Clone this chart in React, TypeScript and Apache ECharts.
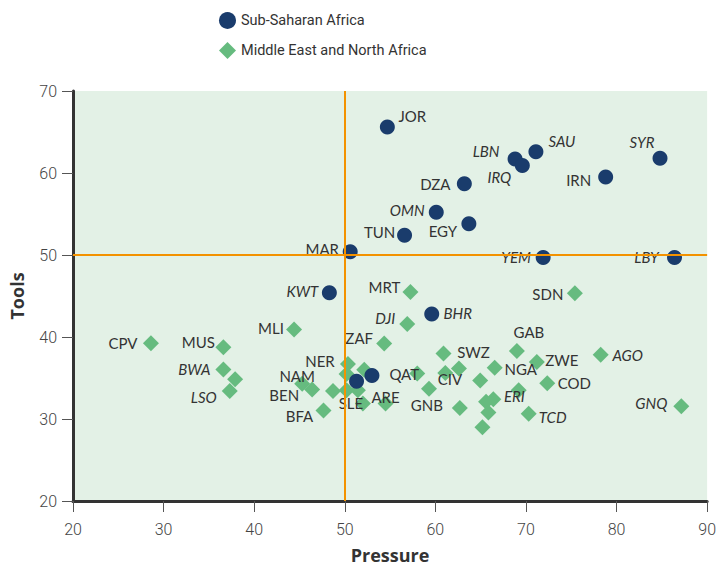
import React, { useEffect, useRef } from 'react';
import * as echarts from 'echarts';

// Sub-Saharan Africa (legend) – dark blue circles
const blueNames = ['JOR', 'LBN', 'IRQ', 'SAU', 'SYR', 'IRN', 'DZA', 'OMN', 'EGY', 'TUN', 'MAR', 'YEM', 'LBY', 'KWT', 'BHR', '', ''];
const blueX = [54.7, 68.8, 69.6, 71.1, 84.8, 78.8, 63.2, 60.1, 63.7, 56.6, 50.6, 71.9, 86.4, 48.3, 59.6, 51.3, 53.0];
const blueY = [65.6, 61.7, 60.9, 62.6, 61.8, 59.5, 58.7, 55.2, 53.8, 52.4, 50.4, 49.7, 49.7, 45.4, 42.8, 34.6, 35.3];

// Middle East and North Africa (legend) – green diamonds
const greenNames = ['MRT', 'SDN', 'DJI', 'MLI', 'CPV', 'MUS', 'ZAF', 'GAB', 'SWZ', 'AGO', 'ZWE', 'NGA', 'COD', 'BWA', '', 'LSO', 'NER', '', '', 'BEN', 'NAM', '', '', 'SLE', 'BFA', '', 'ARE', 'QAT', '', 'CIV', '', 'GNB', '', '', 'ERI', '', '', '', 'TCD', 'GNQ'];
const greenX = [57.25, 75.4, 56.9, 44.4, 28.6, 36.6, 54.35, 69.0, 60.9, 78.25, 71.2, 66.55, 72.35, 36.6, 37.9, 37.3, 50.35, 52.15, 50.2, 45.3, 46.4, 48.7, 50.2, 51.45, 47.65, 52.0, 54.5, 58.0, 59.3, 62.6, 61.1, 62.7, 64.95, 65.6, 66.4, 65.85, 65.2, 69.2, 70.3, 87.15];
const greenY = [45.5, 45.35, 41.6, 40.9, 39.25, 38.75, 39.2, 38.3, 38.0, 37.85, 36.95, 36.25, 34.35, 36.05, 34.85, 33.4, 36.7, 36.0, 35.5, 34.3, 33.6, 33.4, 33.5, 33.5, 31.05, 31.9, 31.9, 35.55, 33.7, 36.15, 35.6, 31.35, 34.7, 32.1, 32.4, 30.8, 29.0, 33.5, 30.65, 31.55];

const xTicks = [20, 30, 40, 50, 60, 70, 80, 90];
const yTicks = [20, 30, 40, 50, 60, 70];
const refX = 50;
const refY = 50;

// label placement (pixel offsets of label centre from the point)
const labelOffsets: Record<string, [number, number]> = {
  JOR: [25, -11], LBN: [-29, -8], IRQ: [-23, 11], SAU: [26, -11], SYR: [-18, -16], IRN: [-27, 3],
  DZA: [-29, 0], OMN: [-29, -2], EGY: [-26, 7], TUN: [-25, -3], MAR: [-28, -3], YEM: [-27, 0],
  LBY: [-28, 0], KWT: [-27, -2], BHR: [26, -1],
  MRT: [-26, -5], SDN: [-27, 1], DJI: [-22, -6], MLI: [-23, -2], CPV: [-28, 0], MUS: [-25, -5],
  ZAF: [-25, -6], GAB: [12, -19], SWZ: [30, -1], AGO: [27, 0], ZWE: [25, -2], NGA: [26, 1],
  COD: [27, 0], BWA: [-29, 0], LSO: [-26, 6], NER: [-28, -3], NAM: [-15, -13], BEN: [-18, 11],
  BFA: [-24, 6], SLE: [-7, 13], ARE: [0, -6], QAT: [-13, 1], CIV: [-9, 10], GNB: [-33, -3],
  ERI: [21, -3], TCD: [24, 3], GNQ: [-30, -3],
};
const italicLabels = ['LBN', 'IRQ', 'SAU', 'SYR', 'OMN', 'YEM', 'LBY', 'KWT', 'BHR', 'DJI', 'AGO', 'BWA', 'LSO', 'ERI', 'TCD', 'GNQ'];

function buildData(names: string[], xs: number[], ys: number[]) {
  return names.map((n, i) => ({
    name: n,
    value: [xs[i], ys[i]],
    label: n
      ? {
          show: true,
          formatter: n,
          position: 'inside',
          offset: labelOffsets[n] || [0, 0],
          fontStyle: italicLabels.includes(n) ? 'italic' : 'normal',
        }
      : { show: false },
  }));
}

export default function App() {
  const ref = useRef<HTMLDivElement>(null);
  useEffect(() => {
    document.body.style.margin = '0';
    const chart = echarts.init(ref.current!, null, { renderer: 'svg' });
    const labelStyle = {
      color: '#333',
      fontFamily: 'Lato, "Noto Sans", sans-serif',
      fontSize: 15,
    };
    const axisLabelStyle = {
      color: '#444',
      fontFamily: 'Roboto, sans-serif',
      fontWeight: 300,
      fontSize: 16,
    };
    chart.setOption({
      animation: false,
      legend: {
        orient: 'vertical',
        left: 214,
        top: 7,
        itemWidth: 17,
        itemHeight: 17,
        itemGap: 13,
        data: ['Sub-Saharan Africa', 'Middle East and North Africa'],
        textStyle: { color: '#333', fontFamily: 'Roboto, sans-serif', fontSize: 14.5 },
      },
      grid: {
        left: 69,
        right: 5,
        top: 91,
        bottom: 68,
        show: true,
        backgroundColor: '#e3f1e6',
        borderWidth: 0,
      },
      xAxis: {
        type: 'value',
        min: xTicks[0],
        max: xTicks[xTicks.length - 1],
        interval: 10,
        name: 'Pressure',
        nameLocation: 'middle',
        nameGap: 45,
        nameTextStyle: { color: '#333', fontFamily: '"Open Sans", sans-serif', fontWeight: 'bold', fontSize: 18 },
        axisLine: { show: true, onZero: false, lineStyle: { color: '#333', width: 3 } },
        axisTick: { show: true, length: 11, lineStyle: { color: '#555', width: 1 } },
        axisLabel: { margin: 20, ...axisLabelStyle },
        splitLine: { show: false },
      },
      yAxis: {
        type: 'value',
        min: yTicks[0],
        max: yTicks[yTicks.length - 1],
        interval: 10,
        name: 'Tools',
        nameLocation: 'middle',
        nameGap: 47,
        nameTextStyle: { color: '#333', fontFamily: '"Open Sans", sans-serif', fontWeight: 'bold', fontSize: 18 },
        axisLine: { show: true, onZero: false, lineStyle: { color: '#333', width: 3 } },
        axisTick: { show: true, length: 11, lineStyle: { color: '#555', width: 1 } },
        axisLabel: { margin: 16, ...axisLabelStyle },
        splitLine: { show: false },
      },
      series: [
        {
          name: 'Middle East and North Africa',
          type: 'scatter',
          symbol: 'diamond',
          symbolSize: 16,
          z: 2,
          itemStyle: { color: '#66bb7f', opacity: 1 },
          label: labelStyle,
          data: buildData(greenNames, greenX, greenY),
          markLine: {
            silent: true,
            symbol: 'none',
            label: { show: false },
            lineStyle: { color: '#f39200', type: 'solid', width: 2 },
            data: [{ xAxis: refX }, { yAxis: refY }],
          },
        },
        {
          name: 'Sub-Saharan Africa',
          type: 'scatter',
          symbol: 'circle',
          symbolSize: 15,
          z: 3,
          itemStyle: { color: '#1a3c6c', opacity: 1 },
          label: labelStyle,
          data: buildData(blueNames, blueX, blueY),
        },
      ],
    });
    return () => chart.dispose();
  }, []);
  return <div ref={ref} style={{ width: 719, height: 569 }} />;
}
